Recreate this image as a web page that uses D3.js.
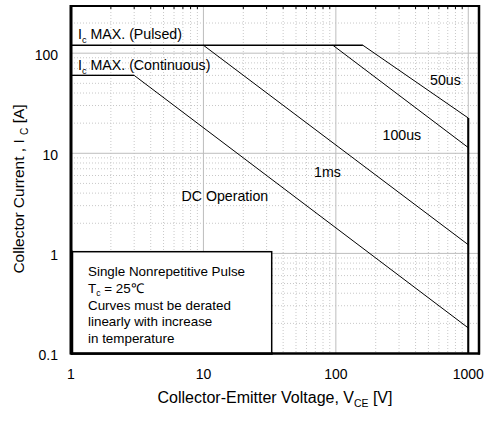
<!DOCTYPE html>
<html>
<head>
<meta charset="utf-8">
<script src="https://cdn.jsdelivr.net/npm/d3@7"></script>
<style>
  html, body { margin: 0; padding: 0; background: #fff; }
  svg { display: block; font-family: "Liberation Sans", Arial, sans-serif; }
</style>
</head>
<body>
<svg id="chart" width="490" height="424"></svg>
<script>
// ---- data ----
const xTickValues = [1, 10, 100, 1000];
const xTickLabels = ["1", "10", "100", "1000"];
const yTickValues = [0.1, 1, 10, 100];
const yTickLabels = ["0.1", "1", "10", "100"];

const pulsedV = [1, 160];
const pulsedI = [120, 120];
const dcV = [1, 3, 1000];
const dcI = [60, 60, 0.18];
const ms1V = [10, 1000];
const ms1I = [120, 1.22];
const us100V = [95, 1000];
const us100I = [120, 11.4];
const us50V = [160, 1000, 1000];
const us50I = [120, 22.5, 0.1];

const curveNames = ["50us", "100us", "1ms", "DC Operation"];
const legendLines = ["Single Nonrepetitive Pulse", "T|c| = 25℃", "Curves must be derated", "linearly with increase", "in temperature"];

// ---- layout ----
const W = 490, H = 424;
const L = 71, R = 479, T = 6, B = 353.5;
const svg = d3.select("#chart");

const x = d3.scaleLog().domain([1, 1205]).range([L, R]);
const y = d3.scaleLog().domain([0.1, 296]).range([B, T]);

// grid
const minorX = [];
[1, 10, 100, 1000].forEach(d => { for (let k = 2; k <= 9; k++) { const v = d * k; if (v < 1205) minorX.push(v); } });
const minorY = [];
[0.1, 1, 10, 100].forEach(d => { for (let k = 2; k <= 9; k++) { const v = d * k; if (v < 296) minorY.push(v); } });

const g = svg.append("g");
g.selectAll(".mx").data(minorX).enter().append("line")
  .attr("x1", d => x(d)).attr("x2", d => x(d)).attr("y1", T).attr("y2", B)
  .attr("stroke", "#c8c8c8").attr("stroke-width", 1).attr("stroke-dasharray", "1,2");
g.selectAll(".my").data(minorY).enter().append("line")
  .attr("y1", d => y(d)).attr("y2", d => y(d)).attr("x1", L).attr("x2", R)
  .attr("stroke", "#c8c8c8").attr("stroke-width", 1).attr("stroke-dasharray", "1,2");
g.selectAll(".Mx").data(xTickValues.slice(1)).enter().append("line")
  .attr("x1", d => x(d)).attr("x2", d => x(d)).attr("y1", T).attr("y2", B)
  .attr("stroke", "#bdbdbd").attr("stroke-width", 1);
g.selectAll(".My").data(yTickValues.slice(1)).enter().append("line")
  .attr("y1", d => y(d)).attr("y2", d => y(d)).attr("x1", L).attr("x2", R)
  .attr("stroke", "#bdbdbd").attr("stroke-width", 1);

// top minor ticks
g.selectAll(".tt").data(minorX).enter().append("line")
  .attr("x1", d => x(d)).attr("x2", d => x(d)).attr("y1", T).attr("y2", T + 3)
  .attr("stroke", "#000").attr("stroke-width", 1);

// curves
const line = d3.line().x(d => x(d[0])).y(d => y(d[1]));
const zip = (a, b) => a.map((v, i) => [v, b[i]]);
function drawCurve(v, i, w) {
  svg.append("path").datum(zip(v, i)).attr("d", line)
    .attr("fill", "none").attr("stroke", "#000").attr("stroke-width", w);
}
drawCurve(pulsedV, pulsedI, 1.4);
drawCurve(dcV, dcI, 1);
drawCurve(ms1V, ms1I, 1);
drawCurve(us100V, us100I, 1);
drawCurve(us50V, us50I, 1);
svg.append("path").datum(zip(dcV.slice(0, 2), dcI.slice(0, 2))).attr("d", line)
  .attr("fill", "none").attr("stroke", "#000").attr("stroke-width", 1.4);
// vertical limit at 1000 V
svg.append("line").attr("x1", x(1000)).attr("x2", x(1000)).attr("y1", y(us50I[1])).attr("y2", B)
  .attr("stroke", "#000").attr("stroke-width", 2);

// frame
svg.append("line").attr("x1", L).attr("x2", R).attr("y1", T).attr("y2", T).attr("stroke", "#000").attr("stroke-width", 2);
svg.append("line").attr("x1", R).attr("x2", R).attr("y1", T - 1).attr("y2", B + 1).attr("stroke", "#000").attr("stroke-width", 2.5);
svg.append("line").attr("x1", L).attr("x2", R + 1).attr("y1", B).attr("y2", B).attr("stroke", "#000").attr("stroke-width", 2.5);
svg.append("line").attr("x1", L).attr("x2", L).attr("y1", T - 1).attr("y2", B + 1).attr("stroke", "#000").attr("stroke-width", 3);

// legend box
const lbx1 = 72.5, lbx2 = 271.7, lby1 = 251.7;
svg.append("rect").attr("x", lbx1).attr("y", lby1).attr("width", lbx2 - lbx1).attr("height", B - lby1)
  .attr("fill", "#fff").attr("stroke", "#000").attr("stroke-width", 1.5);
svg.append("line").attr("x1", L).attr("x2", lbx2 + 1).attr("y1", B).attr("y2", B).attr("stroke", "#000").attr("stroke-width", 2.5);
svg.append("line").attr("x1", L + 0.5).attr("x2", L + 0.5).attr("y1", lby1 - 1).attr("y2", B + 1).attr("stroke", "#000").attr("stroke-width", 3);

function subText(sel, parts, fs) {
  parts.forEach(p => {
    if (p[1]) {
      sel.append("tspan").attr("font-size", fs * 0.65).attr("dy", fs * 0.25).text(p[0]);
    } else {
      sel.append("tspan").attr("dy", p[2] || 0).text(p[0]);
    }
  });
}

const fsL = 13.4;
legendLines.forEach((s, i) => {
  const t = svg.append("text").attr("x", 88).attr("y", 276 + i * 16.8).attr("font-size", fsL).attr("fill", "#000");
  if (s.includes("|")) {
    const seg = s.split("|");
    subText(t, [[seg[0], false], [seg[1], true], [seg[2], false, -fsL * 0.25]], fsL);
  } else t.text(s);
});

// annotations
const fsA = 14.2;
const t1 = svg.append("text").attr("x", 78).attr("y", 39).attr("font-size", fsA);
subText(t1, [["I", false], ["c", true], [" MAX. (Pulsed)", false, -fsA * 0.25]], fsA);
const t2 = svg.append("text").attr("x", 78).attr("y", 70).attr("font-size", fsA);
subText(t2, [["I", false], ["c", true], [" MAX. (Continuous)", false, -fsA * 0.25]], fsA);

const annPos = [[430, 85], [382.5, 139.5], [314, 177], [181.5, 201]];
curveNames.forEach((n, i) => {
  svg.append("text").attr("x", annPos[i][0]).attr("y", annPos[i][1]).attr("font-size", fsA).text(n);
});

// tick labels
svg.selectAll(".xl").data(xTickValues).enter().append("text")
  .attr("x", d => x(d)).attr("y", 379).attr("text-anchor", "middle").attr("font-size", 14)
  .text((d, i) => xTickLabels[i]);
svg.selectAll(".yl").data(yTickValues).enter().append("text")
  .attr("x", 58).attr("y", d => y(d) + 6.5).attr("text-anchor", "end").attr("font-size", 14)
  .text((d, i) => yTickLabels[i]);

// axis titles
const xt = svg.append("text").attr("x", 275).attr("y", 403).attr("text-anchor", "middle").attr("font-size", 16);
subText(xt, [["Collector-Emitter Voltage, V", false], ["CE", true], [" [V]", false, -16 * 0.25]], 16);
const yt = svg.append("text").attr("transform", "translate(24,189) rotate(-90)").attr("text-anchor", "middle").attr("font-size", 15.5);
subText(yt, [["Collector Current , I ", false], ["C", true], [" [A]", false, -15.5 * 0.25]], 15.5);
</script>
</body>
</html>
